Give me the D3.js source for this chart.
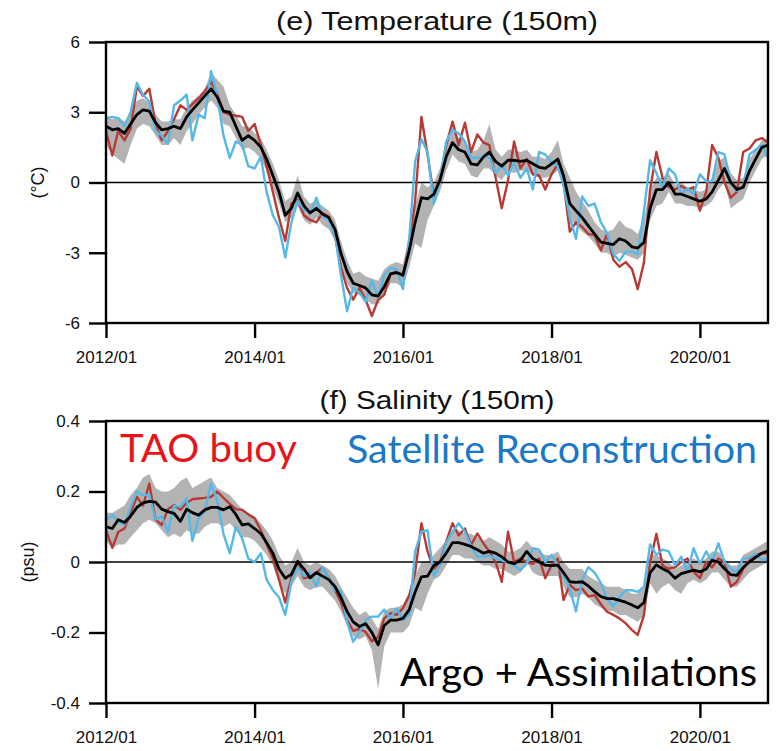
<!DOCTYPE html>
<html><head><meta charset="utf-8">
<script src="https://cdn.jsdelivr.net/npm/d3@7"></script>
<style>body{margin:0;background:#fff;}svg{display:block;}</style>
</head><body>
<script>
// ---------- DATA (monthly, 2012/01 .. 2020/12) ----------
const startMonth = "2012-01";
const xTickLabels = ["2012/01","2014/01","2016/01","2018/01","2020/01"];
const tempTicks = [-6,-3,0,3,6];
const saltTicks = [-0.4,-0.2,0,0.2,0.4];

const tempArgo = [2.4,2.25,2.3,2.1,2.5,2.9,3.1,3.05,2.55,2.25,2.3,2.4,2.3,2.8,3.1,3.4,3.7,4.0,3.65,3.05,3.0,2.4,1.8,2.0,1.8,1.5,1.0,0.3,-0.4,-1.4,-1.1,-0.45,-1.0,-1.3,-1.1,-1.35,-1.5,-2.0,-3.0,-3.8,-4.3,-4.4,-4.5,-4.8,-4.85,-4.45,-3.9,-3.85,-3.95,-2.9,-1.7,-0.65,-0.7,-0.5,0.1,1.1,1.7,1.4,1.3,0.8,0.75,1.1,1.3,0.9,0.7,0.95,0.95,0.9,0.95,0.8,0.65,0.6,0.8,1.0,0.3,-0.9,-1.2,-1.5,-1.85,-2.2,-2.55,-2.6,-2.65,-2.4,-2.5,-2.75,-2.8,-2.55,-1.1,-0.3,-0.3,0.0,-0.5,-0.5,-0.6,-0.7,-0.8,-0.7,-0.4,0.1,0.6,0.0,-0.3,-0.2,0.5,1.0,1.5,1.6];
const tempTAO = [2.2,1.15,2.2,1.8,2.3,4.1,3.7,4.0,2.5,1.8,2.2,2.7,3.3,3.1,3.35,3.6,3.9,4.3,3.8,3.0,2.9,2.85,2.8,2.2,2.5,1.6,0.7,-0.4,-1.5,-2.5,-0.9,-0.75,-1.4,-1.6,-1.7,-1.3,-1.45,-2.3,-3.6,-4.5,-5.0,-4.5,-5.0,-5.7,-5.0,-4.8,-3.9,-3.8,-4.0,-2.6,-0.8,2.8,1.2,-0.6,0.1,1.6,2.6,1.6,2.55,1.3,2.05,1.7,1.6,0.2,-1.1,0.1,1.75,0.6,1.0,0.35,0.3,-0.3,0.35,0.8,0.0,-2.1,-1.7,-1.9,-2.2,-2.25,-2.9,-2.2,-3.3,-3.6,-3.4,-3.7,-4.55,-3.4,-0.3,1.3,0.2,-0.2,-0.3,-0.15,-0.3,-0.2,-1.2,-0.4,1.6,1.05,0.0,-0.65,-0.4,1.3,1.45,1.8,1.9,1.7];
const tempSat = [2.75,2.8,2.75,2.4,3.0,4.25,3.75,3.45,2.2,2.0,1.65,3.3,3.5,3.75,1.8,2.9,2.75,4.75,3.7,2.0,1.05,1.75,1.6,0.7,0.6,1.1,-0.4,-1.4,-1.9,-3.2,-1.7,-0.8,-1.15,-1.3,-0.65,-1.45,-1.6,-2.25,-3.9,-5.5,-4.5,-4.7,-5.1,-4.2,-4.9,-3.95,-3.65,-3.7,-4.55,-2.4,0.9,1.85,1.3,-0.9,0.1,1.75,2.25,2.1,1.75,1.05,1.05,1.1,1.1,0.4,0.75,0.3,0.85,0.2,0.6,-0.3,1.3,1.2,0.85,0.7,-0.1,-1.5,-2.4,-0.6,-1.0,-0.9,-1.7,-2.15,-3.05,-3.35,-2.95,-2.95,-3.05,-1.2,0.95,0.4,-0.2,0.6,0.35,-0.5,-0.25,-0.5,0.35,0.05,0.05,1.3,1.2,0.05,-0.35,-0.2,1.2,1.4,1.6,1.05];
const tempLow = [1.6,1.2,1.0,0.8,1.6,2.3,2.5,2.4,2.0,1.6,1.6,1.9,1.6,2.2,2.5,2.9,3.2,3.5,3.2,2.5,2.4,1.9,1.4,1.5,1.3,1.0,0.5,-0.2,-0.9,-1.7,-1.5,-1.0,-1.6,-1.8,-1.5,-1.8,-2.0,-2.5,-3.5,-4.3,-4.7,-4.8,-5.0,-5.2,-5.2,-4.8,-4.3,-4.3,-4.5,-3.6,-2.6,-2.8,-1.6,-1.0,-0.4,0.5,1.2,0.9,0.8,0.3,0.2,0.6,0.6,0.3,0.1,0.5,0.4,0.5,0.5,0.3,0.2,0.2,0.3,0.5,-0.3,-1.6,-1.8,-2.1,-2.3,-2.6,-3.0,-3.0,-3.2,-3.0,-3.1,-3.2,-3.3,-3.0,-1.6,-1.0,-0.9,-0.4,-0.9,-0.9,-1.0,-1.0,-1.1,-1.0,-0.8,-0.3,0.0,-1.1,-0.9,-0.7,0.0,0.5,1.0,1.2];
const tempHigh = [2.8,2.7,2.8,2.6,3.0,3.5,3.6,3.4,2.9,2.6,2.6,2.7,2.7,3.2,3.5,3.7,4.0,4.7,4.4,4.1,3.3,2.9,2.4,2.4,2.1,1.9,1.4,0.8,0.1,-0.8,-0.6,0.3,-0.6,-0.9,-0.8,-1.0,-1.2,-1.6,-2.5,-3.3,-3.9,-3.8,-4.0,-4.1,-4.2,-3.7,-3.5,-3.4,-3.5,-2.2,-1.0,0.0,-0.2,0.0,0.6,1.6,2.2,1.9,1.8,1.3,1.4,1.8,2.5,1.4,1.1,1.4,1.4,1.3,1.4,1.1,1.1,1.0,1.3,1.8,0.8,0.2,-0.4,-0.8,-1.2,-1.7,-2.0,-2.1,-2.0,-1.6,-1.9,-2.0,-2.2,-1.5,-0.3,0.2,0.2,0.4,-0.1,0.0,-0.2,-0.3,-0.4,-0.3,0.2,0.9,1.1,0.4,0.1,0.2,1.0,1.4,1.8,1.9];

const saltArgo = [0.10,0.095,0.12,0.112,0.13,0.155,0.168,0.172,0.17,0.15,0.143,0.138,0.115,0.15,0.14,0.133,0.148,0.155,0.155,0.148,0.157,0.135,0.105,0.108,0.095,0.08,0.055,0.025,-0.02,-0.046,-0.035,0.002,-0.02,-0.045,-0.03,-0.04,-0.05,-0.07,-0.1,-0.14,-0.17,-0.183,-0.175,-0.2,-0.235,-0.18,-0.165,-0.165,-0.16,-0.135,-0.085,-0.042,-0.04,-0.01,0.0,0.025,0.055,0.055,0.05,0.044,0.035,0.025,0.03,0.025,0.015,0.0,-0.005,0.005,0.03,0.01,0.0,-0.009,-0.01,-0.009,-0.03,-0.056,-0.058,-0.056,-0.068,-0.084,-0.098,-0.104,-0.104,-0.109,-0.114,-0.122,-0.13,-0.115,-0.03,-0.008,-0.019,-0.028,-0.046,-0.033,-0.028,-0.023,-0.028,-0.02,0.005,0.0,-0.019,-0.036,-0.038,-0.015,0.0,0.013,0.025,0.032];
const saltTAO = [0.09,0.04,0.085,0.095,0.14,0.185,0.16,0.222,0.12,0.105,0.15,0.162,0.148,0.168,0.178,0.18,0.182,0.185,0.2,0.182,0.165,0.15,0.148,0.135,0.124,0.09,0.05,0.01,-0.05,-0.115,-0.046,0.0,-0.046,-0.042,-0.03,-0.015,-0.046,-0.08,-0.113,-0.165,-0.195,-0.19,-0.198,-0.225,-0.213,-0.16,-0.145,-0.15,-0.131,-0.094,-0.03,0.11,0.03,-0.02,0.0,0.058,0.11,0.075,0.095,0.048,0.081,0.052,0.03,0.0,-0.056,0.086,0.0,0.01,0.0,-0.005,0.01,-0.046,-0.009,0.01,-0.108,-0.065,-0.08,-0.075,-0.098,-0.094,-0.12,-0.141,-0.15,-0.16,-0.174,-0.193,-0.207,-0.15,0.0,0.08,-0.01,-0.019,-0.015,0.0,0.01,-0.028,-0.046,0.0,-0.015,0.01,0.0,-0.07,-0.056,-0.02,0.005,0.02,0.024,0.025];
const saltSat = [0.12,0.133,0.115,0.105,0.155,0.2,0.19,0.19,0.12,0.13,0.085,0.16,0.157,0.18,0.06,0.124,0.143,0.222,0.176,0.08,0.025,0.1,0.067,0.01,0.0,0.025,-0.05,-0.08,-0.1,-0.15,-0.056,-0.015,-0.04,-0.03,-0.07,-0.015,-0.046,-0.08,-0.08,-0.17,-0.226,-0.2,-0.165,-0.155,-0.155,-0.135,-0.16,-0.131,-0.165,-0.15,0.03,0.086,0.09,-0.04,-0.01,0.055,0.086,0.11,0.086,0.044,0.015,0.015,0.018,0.01,0.005,0.0,-0.01,-0.023,-0.005,0.039,0.035,0.0,0.02,-0.009,-0.04,-0.075,-0.14,-0.05,-0.015,-0.03,-0.06,-0.104,-0.127,-0.1,-0.08,-0.08,-0.085,-0.07,0.05,0.02,0.035,0.03,-0.009,0.015,-0.028,0.039,-0.005,0.03,0.0,0.053,0.0,-0.02,-0.028,0.01,0.013,0.024,0.005,0.01];
const saltLow = [0.06,0.04,0.05,0.05,0.07,0.09,0.11,0.12,0.11,0.09,0.07,0.08,0.07,0.09,0.08,0.08,0.10,0.11,0.11,0.10,0.11,0.09,0.07,0.07,0.06,0.04,0.02,-0.01,-0.06,-0.09,-0.07,-0.04,-0.07,-0.08,-0.07,-0.07,-0.09,-0.11,-0.14,-0.18,-0.21,-0.22,-0.21,-0.25,-0.36,-0.24,-0.20,-0.20,-0.20,-0.18,-0.13,-0.14,-0.09,-0.05,-0.04,-0.01,0.02,0.02,0.01,0.01,0.0,-0.01,-0.01,-0.02,-0.02,-0.03,-0.04,-0.03,0.0,-0.03,-0.04,-0.04,-0.04,-0.04,-0.07,-0.10,-0.10,-0.09,-0.10,-0.12,-0.13,-0.14,-0.14,-0.15,-0.15,-0.16,-0.17,-0.15,-0.06,-0.09,-0.07,-0.06,-0.08,-0.09,-0.06,-0.05,-0.06,-0.05,-0.03,-0.03,-0.05,-0.07,-0.07,-0.05,-0.03,-0.02,-0.01,0.0];
const saltHigh = [0.14,0.14,0.15,0.16,0.19,0.21,0.24,0.25,0.21,0.20,0.20,0.21,0.23,0.24,0.21,0.22,0.23,0.24,0.21,0.20,0.19,0.17,0.15,0.14,0.13,0.11,0.09,0.06,0.02,-0.01,0.0,0.04,0.0,-0.01,0.0,-0.01,-0.02,-0.04,-0.07,-0.10,-0.13,-0.15,-0.14,-0.16,-0.19,-0.14,-0.13,-0.13,-0.12,-0.09,-0.04,0.0,0.0,0.02,0.04,0.06,0.09,0.09,0.08,0.08,0.07,0.06,0.07,0.06,0.05,0.03,0.03,0.04,0.06,0.04,0.03,0.02,0.02,0.03,0.0,-0.02,-0.02,-0.02,-0.04,-0.05,-0.06,-0.07,-0.07,-0.07,-0.08,-0.09,-0.09,-0.07,0.02,0.02,0.01,0.0,-0.02,-0.01,0.0,0.01,0.0,0.01,0.03,0.03,0.01,-0.01,-0.01,0.02,0.03,0.04,0.05,0.06];

// ---------- CHART ----------
const W = 782, H = 751;
const svg = d3.select("body").append("svg").attr("width", W).attr("height", H);
const parse = d3.timeParse("%Y-%m");
const t0 = parse(startMonth);
const dates = d3.range(tempArgo.length).map(i => d3.timeMonth.offset(t0, i));
const tickDates = xTickLabels.map(s => d3.timeParse("%Y/%m")(s));

const left = 106, right = 768;
const x = d3.scaleTime().domain([t0, d3.timeMonth.offset(t0, 107)]).range([left, right]);

const RED = "#b73a34", BLUE = "#55b8e6", GRAY = "#ababab";
const FONT = "'Liberation Sans', Arial, Helvetica, sans-serif";

function panel(cfg) {
  const y = d3.scaleLinear().domain(cfg.domain).range([cfg.bottom, cfg.top]);
  const g = svg.append("g");
  const area = d3.area().x((d,i)=>x(dates[i])).y0((d,i)=>y(cfg.low[i])).y1((d,i)=>y(cfg.high[i]));
  g.append("path").datum(cfg.low).attr("d", area).attr("fill", GRAY).attr("opacity", 0.9);
  g.append("line").attr("x1", left).attr("x2", right).attr("y1", y(0)).attr("y2", y(0))
    .attr("stroke", "#000").attr("stroke-width", 1.3);
  const line = arr => d3.line().x((d,i)=>x(dates[i])).y(d=>y(d))(arr);
  g.append("path").attr("d", line(cfg.red)).attr("fill","none").attr("stroke",RED).attr("stroke-width",2.4).attr("stroke-linejoin","round");
  g.append("path").attr("d", line(cfg.blue)).attr("fill","none").attr("stroke",BLUE).attr("stroke-width",2.4).attr("stroke-linejoin","round");
  g.append("path").attr("d", line(cfg.black)).attr("fill","none").attr("stroke","#000").attr("stroke-width",2.8).attr("stroke-linejoin","round");
  g.append("rect").attr("x", left).attr("y", cfg.top).attr("width", right-left).attr("height", cfg.bottom-cfg.top)
    .attr("fill","none").attr("stroke","#000").attr("stroke-width",2.4);
  const xa = d3.axisBottom(x).tickValues(tickDates).tickSize(15).tickSizeOuter(0)
    .tickFormat((d,i)=>xTickLabels[i]);
  const gx = g.append("g").attr("transform", `translate(0,${cfg.bottom})`).call(xa);
  gx.select(".domain").remove();
  gx.selectAll(".tick line").attr("stroke-width",2.4);
  gx.selectAll("text").attr("font-family",FONT).attr("font-size",17).attr("fill","#111").attr("dy","1.3em");
  const ya = d3.axisLeft(y).tickValues(cfg.ticks).tickSize(17).tickSizeOuter(0).tickFormat(cfg.fmt);
  const gy = g.append("g").attr("transform", `translate(${left},0)`).call(ya);
  gy.select(".domain").remove();
  gy.selectAll(".tick line").attr("stroke-width",2.4);
  gy.selectAll("text").attr("font-family",FONT).attr("font-size",17).attr("fill","#111").attr("x",-26);
  g.append("text").attr("x", 437).attr("y", cfg.titleY).attr("text-anchor","middle")
    .attr("font-family",FONT).attr("font-size",25).attr("fill","#111")
    .attr("textLength", cfg.titleW).attr("lengthAdjust","spacingAndGlyphs").text(cfg.title);
  g.append("text").attr("transform", `translate(${cfg.ylabX},${y(0)}) rotate(-90)`).attr("text-anchor","middle")
    .attr("dy","0.35em").attr("font-family",FONT).attr("font-size",18).attr("fill","#111").text(cfg.ylab);
  return y;
}

panel({domain:[-6,6], top:42, bottom:323, low:tempLow, high:tempHigh, red:tempTAO, blue:tempSat, black:tempArgo,
  ticks:tempTicks, fmt:d=>String(d), title:"(e) Temperature (150m)", titleY:30, titleW:322, ylab:"(\u00B0C)", ylabX:38});
panel({domain:[-0.4,0.4], top:421, bottom:703, low:saltLow, high:saltHigh, red:saltTAO, blue:saltSat, black:saltArgo,
  ticks:saltTicks, fmt:d=>d===0?"0":d3.format(".1f")(d).replace("\u2212","-"), title:"(f) Salinity (150m)", titleY:409, titleW:235, ylab:"(psu)", ylabX:28});

// legend labels
const LF = "Lato, 'Open Sans', sans-serif";
function legendText(label, x0, y0, w, anchor, color) {
  svg.append("text").attr("x",x0).attr("y",y0).attr("text-anchor",anchor).attr("font-family",LF).attr("font-size",38)
    .attr("fill",color).attr("textLength",w).attr("lengthAdjust","spacingAndGlyphs").text(label);
}
legendText("TAO buoy", 120, 462, 177, "start", "#e8141c");
legendText("Satellite Reconstruction", 347, 463, 410, "start", "#1a78c8");
legendText("Argo + Assimilations", 400, 686, 357, "start", "#000");
</script>
</body></html>
